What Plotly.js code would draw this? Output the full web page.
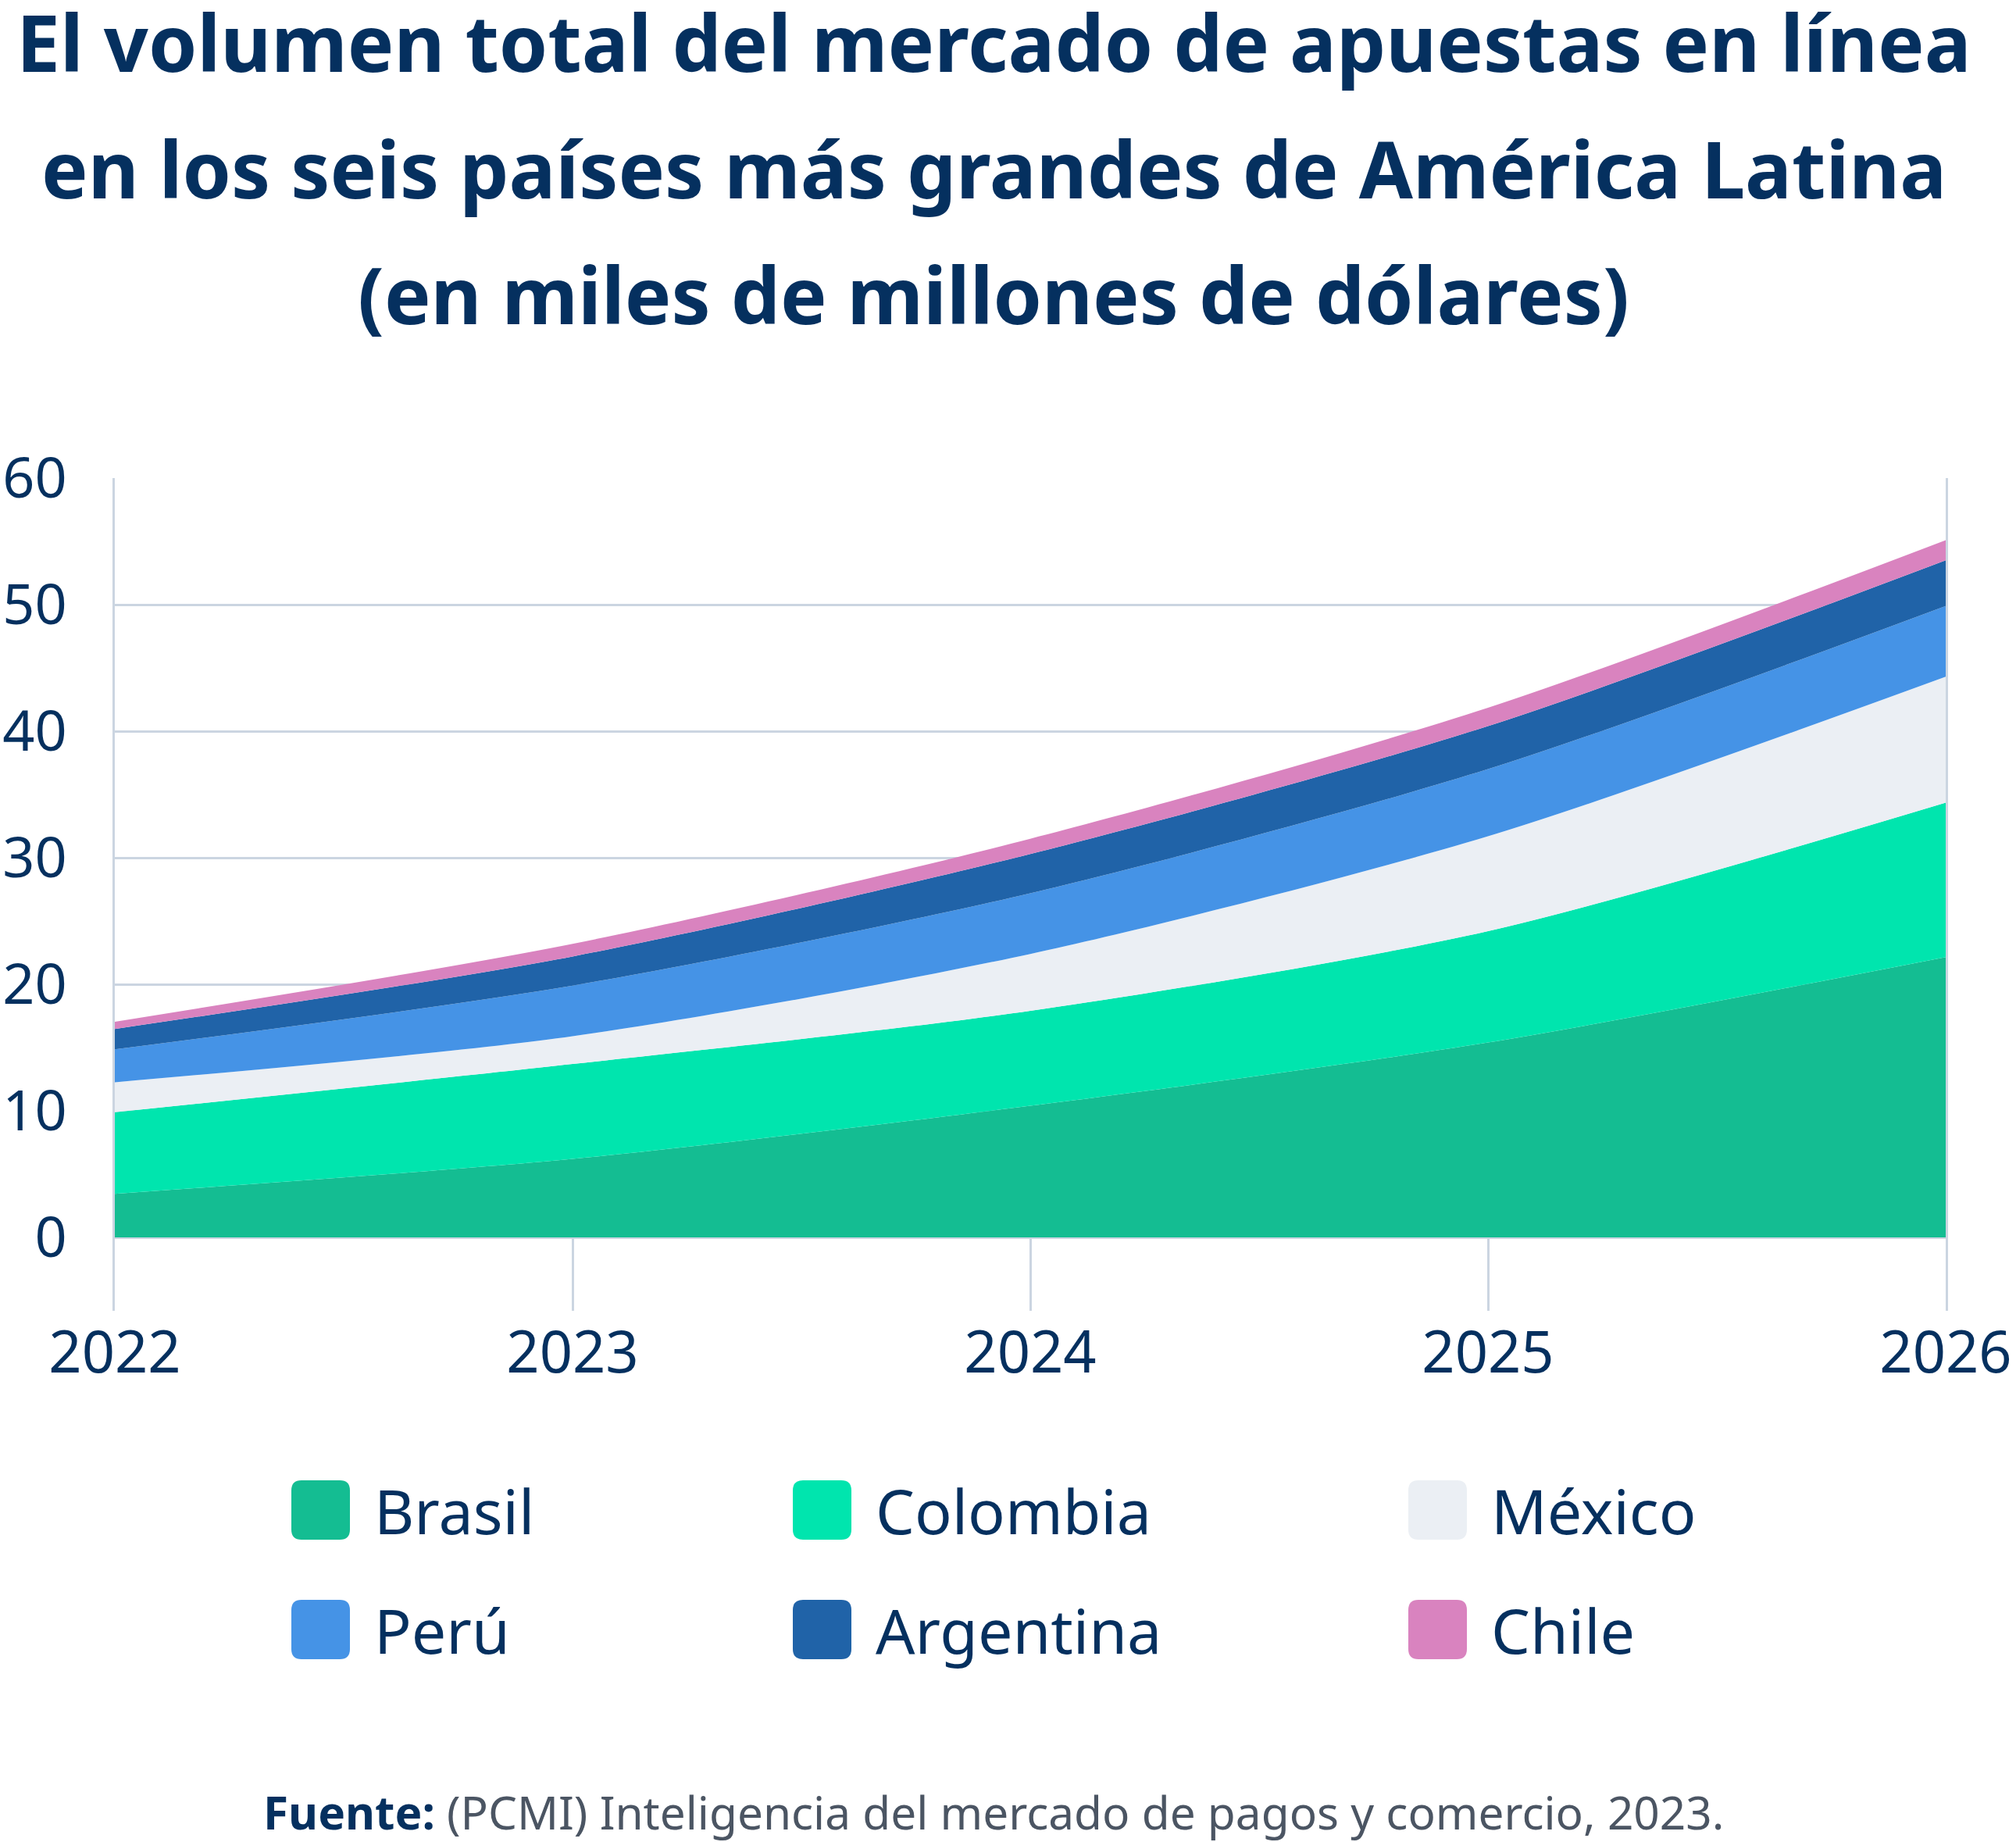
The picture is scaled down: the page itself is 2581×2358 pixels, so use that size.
<!DOCTYPE html>
<html>
<head>
<meta charset="utf-8">
<script src="https://cdn.plot.ly/plotly-3.0.1.min.js"></script>
<style>html,body{margin:0;padding:0;background:#fff;}#chart{width:2581px;height:2358px;}</style>
</head>
<body>
<div id="chart"></div>
<script>
// ---- data (values in thousands of millions of USD) ----
const years = [2022, 2023, 2024, 2025, 2026];
const brasil    = [3.45, 6.2, 10.4, 15.4, 22.15];
const colombia  = [6.44, 7.5, 7.5, 8.8, 12.2];
const mexico    = [2.37, 2.2, 4.5, 7.5, 9.95];
const peru      = [2.6, 4.0, 4.8, 5.3, 5.6];
const argentina = [1.61, 2.3, 3.1, 3.4, 3.6];
const chile     = [0.57, 1.0, 1.2, 1.45, 1.6];
const seriesNames = ["Brasil", "Colombia", "México", "Perú", "Argentina", "Chile"];
const yTicks = [0, 10, 20, 30, 40, 50, 60];
const titleLines = [
  "El volumen total del mercado de apuestas en línea",
  "en los seis países más grandes de América Latina",
  "(en miles de millones de dólares)"
];
const sourceBold = "Fuente:";
const sourceText = "(PCMI) Inteligencia del mercado de pagos y comercio, 2023.";

// ---- styling ----
const colors = ["#14BD92", "#00E5AE", "#EBEFF4", "#4593E6", "#2063A8", "#D983BF"];
const navy = "#05305F";
const gridColor = "#CBD5E1";
const FONT = "Noto Sans, sans-serif";

const W = 2581, H = 2358;
const M = {l: 147, r: 90, t: 612, b: 680};
const PW = W - M.l - M.r, PH = H - M.t - M.b;
const px2x = p => (p - M.l) / PW;
const py2y = p => (H - M.b - p) / PH;

const allSeries = [brasil, colombia, mexico, peru, argentina, chile];
const traces = allSeries.map((vals, i) => ({
  type: "scatter",
  x: years,
  y: vals,
  name: seriesNames[i],
  stackgroup: "one",
  mode: "lines",
  line: {width: 0, shape: "spline", smoothing: 0.8, color: colors[i]},
  fillcolor: colors[i],
  hoverinfo: "skip",
  showlegend: false
}));

// legend (manual grid)
const legendCols = [373, 1015, 1803];
const legendRows = [1933, 2086];
const shapes = [];
const annotations = [];
function roundRect(x0, y0, x1, y1, r) {
  const X = px2x, Y = py2y;
  return `M ${X(x0 + r)} ${Y(y0)} L ${X(x1 - r)} ${Y(y0)} Q ${X(x1)} ${Y(y0)} ${X(x1)} ${Y(y0 + r)} ` +
         `L ${X(x1)} ${Y(y1 - r)} Q ${X(x1)} ${Y(y1)} ${X(x1 - r)} ${Y(y1)} ` +
         `L ${X(x0 + r)} ${Y(y1)} Q ${X(x0)} ${Y(y1)} ${X(x0)} ${Y(y1 - r)} ` +
         `L ${X(x0)} ${Y(y0 + r)} Q ${X(x0)} ${Y(y0)} ${X(x0 + r)} ${Y(y0)} Z`;
}
seriesNames.forEach((nm, i) => {
  const cx = legendCols[i % 3], cy = legendRows[Math.floor(i / 3)];
  shapes.push({
    type: "path", xref: "paper", yref: "paper",
    path: roundRect(cx, cy - 38, cx + 75, cy + 38, 13),
    fillcolor: colors[i], line: {width: 0}, layer: "above"
  });
  annotations.push({
    xref: "paper", yref: "paper", x: px2x(cx + 104), y: py2y(cy),
    xanchor: "left", yanchor: "middle", showarrow: false,
    text: nm, font: {family: FONT, size: 79, color: navy}
  });
});

// title lines
const titleMid = [53, 215, 376];
titleLines.forEach((t, i) => {
  annotations.push({
    xref: "paper", yref: "paper", x: px2x(1272), y: py2y(titleMid[i]),
    xanchor: "center", yanchor: "middle", showarrow: false,
    text: "<b>" + t + "</b>", font: {family: FONT, size: 100, color: navy}
  });
});

// source
annotations.push({
  xref: "paper", yref: "paper", x: px2x(1272), y: py2y(2319),
  xanchor: "center", yanchor: "middle", showarrow: false,
  text: "<b>" + sourceBold + "</b> <span style='color:#4B5563'>" + sourceText + "</span>",
  font: {family: FONT, size: 58.5, color: navy}
});

const layout = {
  width: W, height: H,
  margin: M,
  paper_bgcolor: "#fff", plot_bgcolor: "#fff",
  showlegend: false,
  xaxis: {
    range: [2022, 2026], tickvals: years, ticktext: years.map(String),
    showgrid: false, zeroline: false, showline: false,
    ticks: "inside", ticklen: 94, tickwidth: 3, tickcolor: gridColor,
    ticklabelstandoff: 4,
    tickfont: {family: FONT, size: 74, color: navy}
  },
  yaxis: {
    range: [-5.8, 60], tickvals: yTicks,
    showgrid: true, gridcolor: gridColor, gridwidth: 3,
    zeroline: false, showline: true, mirror: true, linecolor: gridColor, linewidth: 3,
    ticks: "", ticklabelstandoff: 44,
    tickfont: {family: FONT, size: 72, color: navy}
  },
  shapes: shapes,
  annotations: annotations
};

Plotly.newPlot("chart", traces, layout, {staticPlot: true, displayModeBar: false});
</script>
</body>
</html>
